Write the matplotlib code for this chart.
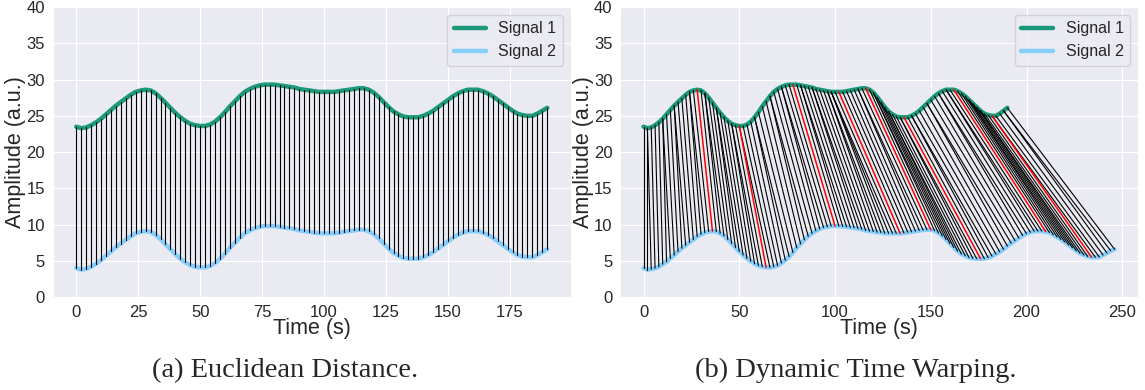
import numpy as np
import matplotlib.pyplot as plt
import seaborn as sns

sns.set_style("darkgrid")
plt.rcParams['font.family'] = ['Liberation Sans', 'DejaVu Sans']

# signal 1, sampled every 2 s (0..190)
t1 = np.arange(0, 191, 2)
signal1 = [23.5, 23.3, 23.4, 23.7, 24.1, 24.6, 25.2, 25.8, 26.4, 26.9,
           27.4, 27.9, 28.3, 28.5, 28.6, 28.5, 28.1, 27.5, 26.8, 26.1,
           25.4, 24.8, 24.3, 23.9, 23.7, 23.6, 23.6, 23.8, 24.2, 24.8,
           25.5, 26.3, 27.0, 27.7, 28.3, 28.7, 29.0, 29.2, 29.3, 29.3,
           29.3, 29.2, 29.1, 29.0, 28.9, 28.7, 28.6, 28.5, 28.4, 28.3,
           28.3, 28.3, 28.3, 28.4, 28.5, 28.6, 28.7, 28.8, 28.8, 28.6,
           28.2, 27.6, 26.9, 26.2, 25.6, 25.2, 24.9, 24.8, 24.8, 24.8,
           25.0, 25.3, 25.7, 26.2, 26.7, 27.2, 27.7, 28.1, 28.4, 28.6,
           28.6, 28.6, 28.4, 28.1, 27.7, 27.2, 26.7, 26.2, 25.7, 25.3,
           25.1, 25.0, 25.0, 25.3, 25.7, 26.1]

# signal 2 on the same time grid (panel a)
signal2 = [4.0, 3.8, 3.9, 4.2, 4.6, 5.1, 5.7, 6.3, 6.9, 7.4,
           7.9, 8.4, 8.8, 9.0, 9.1, 9.0, 8.6, 8.0, 7.3, 6.6,
           5.9, 5.3, 4.8, 4.4, 4.2, 4.1, 4.1, 4.3, 4.7, 5.3,
           6.0, 6.8, 7.5, 8.2, 8.8, 9.2, 9.5, 9.7, 9.8, 9.8,
           9.8, 9.7, 9.6, 9.5, 9.4, 9.2, 9.1, 9.0, 8.9, 8.8,
           8.8, 8.8, 8.8, 8.9, 9.0, 9.1, 9.2, 9.3, 9.3, 9.1,
           8.7, 8.1, 7.4, 6.7, 6.1, 5.7, 5.4, 5.3, 5.3, 5.3,
           5.5, 5.8, 6.2, 6.7, 7.2, 7.7, 8.2, 8.6, 8.9, 9.1,
           9.1, 9.1, 8.9, 8.6, 8.2, 7.7, 7.2, 6.7, 6.2, 5.8,
           5.6, 5.5, 5.5, 5.8, 6.2, 6.6]

# signal 2 stretched in time (panel b), every 2 s (0..246)
t2b = np.arange(0, 247, 2)
signal2b = [4.0, 3.8, 3.85, 4.0, 4.2, 4.55, 4.9, 5.35, 5.8, 6.3,
            6.75, 7.15, 7.55, 7.95, 8.35, 8.65, 8.9, 9.05, 9.1, 9.05,
            8.8, 8.45, 7.95, 7.4, 6.85, 6.3, 5.8, 5.35, 4.95, 4.6,
            4.35, 4.2, 4.1, 4.1, 4.2, 4.35, 4.7, 5.1, 5.6, 6.15,
            6.8, 7.35, 7.9, 8.4, 8.8, 9.15, 9.4, 9.6, 9.7, 9.8,
            9.8, 9.8, 9.75, 9.7, 9.6, 9.55, 9.45, 9.35, 9.2, 9.1,
            9.05, 8.95, 8.9, 8.8, 8.8, 8.8, 8.8, 8.8, 8.85, 8.95,
            9.0, 9.1, 9.2, 9.25, 9.3, 9.3, 9.15, 8.85, 8.45, 7.95,
            7.4, 6.85, 6.35, 5.95, 5.7, 5.45, 5.35, 5.3, 5.3, 5.3,
            5.45, 5.65, 5.95, 6.25, 6.6, 7.05, 7.45, 7.8, 8.15, 8.5,
            8.75, 8.95, 9.1, 9.1, 9.1, 9.05, 8.9, 8.6, 8.3, 7.95,
            7.6, 7.2, 6.8, 6.4, 6.05, 5.8, 5.6, 5.5, 5.5, 5.55,
            5.8, 6.1, 6.4, 6.6]

# indices of signal 1 extrema, highlighted in red in the DTW panel
red_idx = [14, 25, 39, 51, 58, 68, 81, 91]

c1 = '#1a9a7a'
c2 = '#87cefa'

s1 = np.array(signal1)
s2 = np.array(signal2)
s2b = np.array(signal2b)

# plain DTW on the mean-removed signals
a = s1 - s1.mean()
b = s2b - s2b.mean()
n, m = len(a), len(b)
D = np.full((n + 1, m + 1), np.inf)
D[0, 0] = 0.0
for i in range(1, n + 1):
    for j in range(1, m + 1):
        cost = (a[i - 1] - b[j - 1]) ** 2
        D[i, j] = cost + min(D[i - 1, j], D[i, j - 1], D[i - 1, j - 1])
path = []
i, j = n, m
while i > 0 and j > 0:
    path.append((i - 1, j - 1))
    k = np.argmin([D[i - 1, j - 1], D[i - 1, j], D[i, j - 1]])
    if k == 0:
        i, j = i - 1, j - 1
    elif k == 1:
        i = i - 1
    else:
        j = j - 1
path = path[::-1]

fig, (ax1, ax2) = plt.subplots(1, 2, figsize=(11.45, 3.9), dpi=100)
fig.subplots_adjust(left=0.046, right=0.994, top=0.982, bottom=0.238, wspace=0.095)

# (a) euclidean
ax1.plot(t1, s1, color=c1, lw=3.2, label='Signal 1')
ax1.plot(t1, s2, color=c2, lw=3.2, label='Signal 2')
for k in range(len(t1)):
    ax1.plot([t1[k], t1[k]], [s1[k], s2[k]], color='black', lw=0.8)

# (b) dtw
ax2.plot(t1, s1, color=c1, lw=3.2, label='Signal 1')
ax2.plot(t2b, s2b, color=c2, lw=3.2, label='Signal 2')
done = set()
for (p, q) in path:
    col = 'black'
    w = 0.8
    if p in red_idx and p not in done:
        col = 'red'
        w = 1.1
        done.add(p)
    ax2.plot([t1[p], t2b[q]], [s1[p], s2b[q]], color=col, lw=w,
             zorder=3 if col == 'red' else 2)

for ax in (ax1, ax2):
    ax.set_ylim(0, 40)
    ax.set_xlabel('Time (s)', fontsize=15.5, labelpad=-1)
    ax.set_ylabel('Amplitude (a.u.)', fontsize=15.5, labelpad=0)
    ax.tick_params(labelsize=12, pad=2)
    ax.legend(loc='upper right', fontsize=11.5, frameon=True)

fig.text(0.249, 0.051, '(a) Euclidean Distance.', ha='center', va='center',
         family='Liberation Serif', fontsize=20.5)
fig.text(0.747, 0.051, '(b) Dynamic Time Warping.', ha='center', va='center',
         family='Liberation Serif', fontsize=20.5)

plt.savefig('out.png', dpi=100)
